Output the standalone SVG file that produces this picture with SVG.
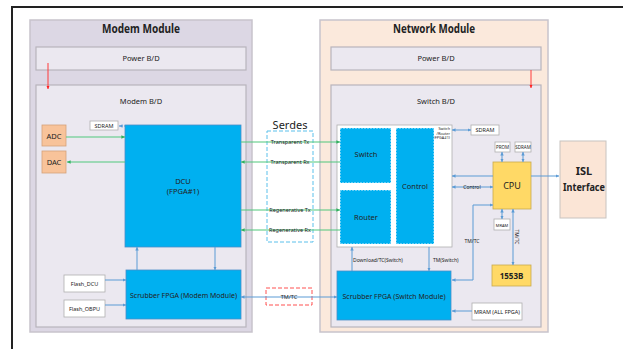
<svg xmlns="http://www.w3.org/2000/svg" width="623" height="349" viewBox="0 0 623 349">
<defs>
<style>
text{font-family:"Noto Sans","Liberation Sans",sans-serif;fill:#222;text-anchor:middle}
.mod{stroke:#c8c3cc;stroke-width:1.5}
.bd{fill:#ebe8f0;stroke:#b8b4bc;stroke-width:1.2}
.blue{fill:#00b0f0;stroke:#4a8ec8;stroke-width:0.8}
.wbox{fill:#fff;stroke:#b0b0b0;stroke-width:0.8}
.yel{fill:#ffd966;stroke:#c9aa4e;stroke-width:0.8}
.org{fill:#f8c39a;stroke:#d4a27a;stroke-width:0.8}
.lb{stroke:#5b9bd5;stroke-width:1;fill:none}
.lg{stroke:#50c87c;stroke-width:1.2;fill:none}
.lr{stroke:#ff3b3b;stroke-width:1;fill:none}
.t1{font-size:11.5px;font-weight:bold}
.t2{font-size:7.5px}
.t3{font-size:5.5px}
</style>
<marker id="ab" viewBox="0 0 6 6" refX="6" refY="3" markerWidth="3.5" markerHeight="3.5" orient="auto-start-reverse"><path d="M0,0L6,3L0,6z" fill="#5b9bd5"/></marker>
<marker id="ag" viewBox="0 0 6 6" refX="6" refY="3" markerWidth="3" markerHeight="3" orient="auto-start-reverse"><path d="M0,0L6,3L0,6z" fill="#2fae5e"/></marker>
<marker id="ar" viewBox="0 0 6 6" refX="6" refY="3" markerWidth="3.5" markerHeight="3.5" orient="auto-start-reverse"><path d="M0,0L6,3L0,6z" fill="#ff2020"/></marker>
</defs>
<rect width="623" height="349" fill="#fff"/>
<path d="M12,349V7H623" fill="none" stroke="#222" stroke-width="2"/>

<g id="modem-module">
<rect x="30" y="20" width="222" height="312" fill="#dcd7e4" class="mod"/>
<text x="141" y="33" class="t1" textLength="78" lengthAdjust="spacingAndGlyphs">Modem Module</text>
</g>
<g id="modem-power">
<rect x="36" y="47" width="210" height="23" class="bd"/>
<text x="141" y="61" class="t2">Power B/D</text>
</g>
<g id="modem-bd">
<rect x="36" y="85" width="210" height="242" class="bd"/>
<text x="141" y="104" class="t2">Modem B/D</text>
</g>

<g id="network-module">
<rect x="320" y="20" width="228" height="312" fill="#fbe9dc" class="mod"/>
<text x="434" y="33" class="t1" textLength="82" lengthAdjust="spacingAndGlyphs">Network Module</text>
</g>
<g id="network-power">
<rect x="331" y="47" width="210" height="23" class="bd"/>
<text x="436" y="61" class="t2">Power B/D</text>
</g>
<g id="switch-bd">
<rect x="331" y="85" width="210" height="242" class="bd"/>
<text x="436" y="104" class="t2">Switch B/D</text>
</g>

<g id="serdes">
<rect x="267" y="131" width="46" height="111" fill="#fff" stroke="#5bc0eb" stroke-width="1" stroke-dasharray="4,2"/>
<text x="290" y="129" style="font-size:11px">Serdes</text>
</g>
<g id="tmtc-box">
<rect x="266" y="288" width="46" height="17" fill="#fff" stroke="#ff5050" stroke-width="1" stroke-dasharray="4,2"/>
</g>

<g id="adc"><rect x="42" y="125" width="24" height="21" class="org"/><text x="54" y="139" class="t2">ADC</text></g>
<g id="dac"><rect x="42" y="151" width="24" height="22" class="org"/><text x="54" y="165" class="t2">DAC</text></g>
<g id="sdram-m"><rect x="90" y="121" width="28" height="9" class="wbox"/><text x="104" y="128" class="t3">SDRAM</text></g>
<g id="dcu"><rect x="125" y="125" width="116" height="122" class="blue"/><text x="183" y="184" class="t2">DCU</text><text x="183" y="194" class="t2">(FPGA#1)</text></g>
<g id="scrubber-m"><rect x="126" y="270" width="115" height="49" class="blue"/><text x="183.5" y="298" class="t2" textLength="107" lengthAdjust="spacingAndGlyphs">Scrubber FPGA (Modem Module)</text></g>
<g id="flash-dcu"><rect x="64" y="275" width="41" height="17" class="wbox"/><text x="84.5" y="286" class="t3">Flash_DCU</text></g>
<g id="flash-obpu"><rect x="64" y="300" width="41" height="17" class="wbox"/><text x="84.5" y="311" class="t3">Flash_OBPU</text></g>

<g id="switch-router">
<rect x="337" y="125" width="115" height="122" class="wbox"/>
<text x="450" y="130" style="font-size:3.8px;text-anchor:end">Switch</text>
<text x="450" y="134.5" style="font-size:3.8px;text-anchor:end">/Router</text>
<text x="450" y="139" style="font-size:3.8px;text-anchor:end">(FPGA#1)</text>
</g>
<g id="switch"><rect x="340" y="128" width="51" height="55" fill="#00b0f0" stroke="#fff" stroke-width="0.8" stroke-dasharray="2,1"/><text x="366" y="157" class="t2">Switch</text></g>
<g id="router"><rect x="340" y="190" width="51" height="54" fill="#00b0f0" stroke="#fff" stroke-width="0.8" stroke-dasharray="2,1"/><text x="366" y="220" class="t2">Router</text></g>
<g id="control"><rect x="396" y="128" width="38" height="116" fill="#00b0f0" stroke="#fff" stroke-width="0.8" stroke-dasharray="2,1"/><text x="415" y="189" class="t2">Control</text></g>
<g id="sdram-n"><rect x="471" y="125" width="28" height="10" class="wbox"/><text x="485" y="132" class="t3">SDRAM</text></g>
<g id="prom"><rect x="495" y="142" width="15" height="10" class="wbox"/><text x="502.5" y="149" style="font-size:4.5px">PROM</text></g>
<g id="sdram-c"><rect x="515" y="142" width="16" height="10" class="wbox"/><text x="523" y="149" style="font-size:4.5px">SDRAM</text></g>
<g id="cpu"><rect x="493" y="162" width="38" height="47" class="yel"/><text x="512" y="189" style="font-size:9px">CPU</text></g>
<g id="mram"><rect x="494" y="219" width="16" height="11" class="wbox"/><text x="502" y="226.5" style="font-size:4px">MRAM</text></g>
<g id="b1553"><rect x="492" y="265" width="39" height="21" class="yel"/><text x="511.5" y="279" style="font-size:8px;font-weight:bold">1553B</text></g>
<g id="mram-all"><rect x="472" y="303" width="50" height="17" class="wbox"/><text x="497" y="314" style="font-size:5.5px">MRAM (ALL FPGA)</text></g>
<g id="scrubber-s"><rect x="337" y="271" width="114" height="49" class="blue"/><text x="394" y="298.5" class="t2" textLength="103" lengthAdjust="spacingAndGlyphs">Scrubber FPGA (Switch Module)</text></g>
<g id="isl"><rect x="560" y="141" width="46" height="77" fill="#fbe5d6" stroke="#c8c3c0" stroke-width="1"/><text x="584" y="175" style="font-size:11px;font-weight:bold">ISL</text><text x="584" y="191" style="font-size:11px;font-weight:bold" textLength="42" lengthAdjust="spacingAndGlyphs">Interface</text></g>

<g id="connectors">
<line x1="48" y1="63" x2="48" y2="89" class="lr" marker-end="url(#ar)"/>
<line x1="531" y1="70" x2="531" y2="88" class="lr" marker-end="url(#ar)"/>
<line x1="66" y1="137" x2="125" y2="137" class="lg" marker-end="url(#ag)"/>
<line x1="125" y1="162" x2="67" y2="162" class="lg" marker-end="url(#ag)"/>
<line x1="119" y1="126" x2="125" y2="126" class="lb" stroke-dasharray="1.5,1" marker-start="url(#ab)"/>
<line x1="241" y1="142" x2="340" y2="142" class="lg" marker-end="url(#ag)"/>
<line x1="340" y1="162" x2="241" y2="162" class="lg" marker-end="url(#ag)"/>
<line x1="241" y1="210" x2="340" y2="210" class="lg" marker-end="url(#ag)"/>
<line x1="340" y1="230" x2="241" y2="230" class="lg" marker-end="url(#ag)"/>
<line x1="137" y1="270" x2="137" y2="247" class="lb" marker-end="url(#ab)"/>
<line x1="215" y1="247" x2="215" y2="270" class="lb" marker-end="url(#ab)"/>
<line x1="105" y1="280" x2="126" y2="280" class="lb" marker-end="url(#ab)"/>
<line x1="105" y1="305" x2="126" y2="305" class="lb" marker-end="url(#ab)"/>
<line x1="241" y1="297" x2="337" y2="297" class="lb" marker-start="url(#ab)" marker-end="url(#ab)"/>
<line x1="352" y1="271" x2="352" y2="247" class="lb" marker-end="url(#ab)"/>
<line x1="429" y1="247" x2="429" y2="271" class="lb" marker-end="url(#ab)"/>
<line x1="452" y1="130" x2="471" y2="130" class="lb" marker-start="url(#ab)" marker-end="url(#ab)"/>
<line x1="502" y1="152" x2="502" y2="162" class="lb" marker-start="url(#ab)" marker-end="url(#ab)"/>
<line x1="523" y1="152" x2="523" y2="162" class="lb" marker-start="url(#ab)" marker-end="url(#ab)"/>
<line x1="493" y1="176" x2="452" y2="176" class="lb" marker-end="url(#ab)"/>
<line x1="452" y1="187" x2="493" y2="187" class="lb" marker-start="url(#ab)" marker-end="url(#ab)"/>
<line x1="531" y1="176" x2="559" y2="176" class="lb" marker-end="url(#ab)"/>
<path d="M452,280H473V205H493" class="lb" marker-start="url(#ab)" marker-end="url(#ab)"/>
<line x1="502" y1="209" x2="502" y2="219" class="lb" marker-start="url(#ab)" marker-end="url(#ab)"/>
<line x1="513" y1="209" x2="513" y2="265" class="lb" marker-start="url(#ab)" marker-end="url(#ab)"/>
<line x1="472" y1="311" x2="452" y2="311" class="lb" marker-end="url(#ab)"/>
<g class="t3">
<text x="290" y="144">Transparent Tx</text>
<text x="290" y="164">Transparent Rx</text>
<text x="290" y="212">Regenerative Tx</text>
<text x="290" y="232">Regenerative Rx</text>
<text x="289" y="299">TM/TC</text>
<text x="353" y="262" style="text-anchor:start;font-size:5px">Download/TC(Switch)</text>
<text x="433" y="262" style="text-anchor:start;font-size:5px">TM(Switch)</text>
<text x="472" y="189" style="font-size:5px">Control</text>
<text x="472" y="243" style="font-size:5px">TM/TC</text>
<text x="0" y="0" style="font-size:5px" transform="translate(515,237) rotate(90)">TM/TC</text>
</g>
</g>
</svg>
